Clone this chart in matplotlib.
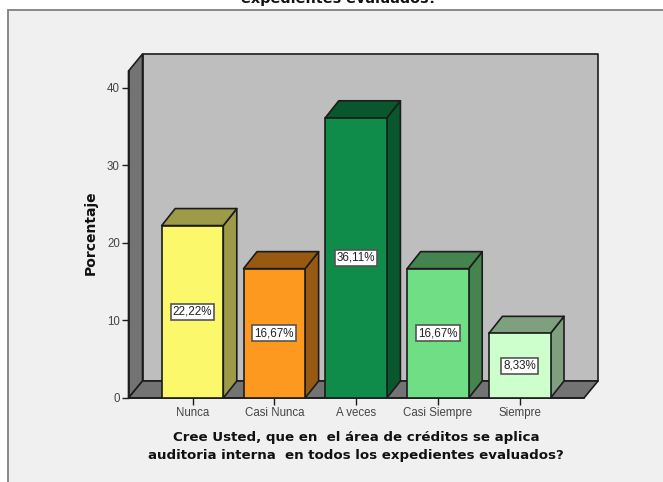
import matplotlib

matplotlib.use("Agg")
import matplotlib.pyplot as plt
from matplotlib.patches import Polygon, Rectangle

CATEGORIES = ["Nunca", "Casi Nunca", "A veces", "Casi Siempre", "Siempre"]
VALUES = [22.22, 16.67, 36.11, 16.67, 8.33]
LABELS = ["22,22%", "16,67%", "36,11%", "16,67%", "8,33%"]
FRONT = ["#FCF86C", "#FD991F", "#0F8C4A", "#70DE85", "#CCFFCC"]
DARK = ["#9E9B48", "#985A12", "#09582D", "#45834F", "#7EA07E"]
YTICKS = [0, 10, 20, 30, 40]

W, H = 663, 482
EDGE = "#1c1c1c"

# front plane of the 3d box, in pixels from the top left
LEFT, RIGHT, TOP, BOTTOM = 128.5, 584.0, 71.0, 398.0
STEP = 81.8
FIRST = 192.5
PX_PER_UNIT = 7.76

fig = plt.figure(figsize=(W / 100, H / 100), dpi=100, facecolor="white")
fig.add_artist(Rectangle((7.5 / W, -0.02), 0.99, 1 - 10 / H + 0.02, transform=fig.transFigure,
                         facecolor="#F0F0F0", edgecolor="#808080", linewidth=1.3, zorder=-1))

ax = fig.add_axes([LEFT / W, 1 - BOTTOM / H, (RIGHT - LEFT) / W, (BOTTOM - TOP) / H])
ax.set_xlim((LEFT - FIRST) / STEP, (RIGHT - FIRST) / STEP)
ax.set_ylim(0, (BOTTOM - TOP) / PX_PER_UNIT)
ax.patch.set_visible(False)

x0, x1 = ax.get_xlim()
y0, y1 = ax.get_ylim()
dx = 14 / STEP
dy = 17 / PX_PER_UNIT


def face(points, color, zorder):
    ax.add_patch(Polygon(points, closed=True, facecolor=color, edgecolor=EDGE,
                         linewidth=1.2, joinstyle="round", clip_on=False, zorder=zorder))


# box walls
face([(x0 + dx, y0 + dy), (x1 + dx, y0 + dy), (x1 + dx, y1 + dy), (x0 + dx, y1 + dy)], "#BEBEBE", 1)
face([(x0, y0), (x0 + dx, y0 + dy), (x0 + dx, y1 + dy), (x0, y1)], "#737373", 1.1)
face([(x0, y0), (x1, y0), (x1 + dx, y0 + dy), (x0 + dx, y0 + dy)], "#737373", 1.1)

half = 30.8 / STEP
bar_dx = 13.5 / STEP
for i, value in enumerate(VALUES):
    l, r = i - half, i + half
    face([(r, 0), (r + bar_dx, dy), (r + bar_dx, value + dy), (r, value)], DARK[i], 2)
    face([(l, value), (r, value), (r + bar_dx, value + dy), (l + bar_dx, value + dy)], DARK[i], 2)
    ax.bar(i, value, width=2 * half, color=FRONT[i], edgecolor=EDGE, linewidth=1.2, zorder=3)
    ax.text(i, value / 2, LABELS[i], ha="center", va="center", fontsize=8.4,
            family="Liberation Sans", color="#222222", zorder=4,
            bbox=dict(boxstyle="square,pad=0.18", facecolor="white", edgecolor="#555555", linewidth=1.2))

for side in ["top", "right"]:
    ax.spines[side].set_visible(False)
for side in ["left", "bottom"]:
    ax.spines[side].set_linewidth(1.2)
    ax.spines[side].set_color(EDGE)
    ax.spines[side].set_zorder(2.5)

ax.set_yticks(YTICKS)
ax.set_xticks(range(len(CATEGORIES)))
ax.set_xticklabels(CATEGORIES)
ax.tick_params(axis="both", length=5.2, width=1.0, color=EDGE, labelsize=8.3, labelcolor="#444444", pad=1)
for label in ax.get_xticklabels() + ax.get_yticklabels():
    label.set_family("Liberation Sans")

fig.text(91 / W, 1 - 233 / H, "Porcentaje", rotation=90, ha="center", va="center",
         fontsize=10, fontweight="bold", family="DejaVu Sans", color="#111111")
fig.text(356 / W, 1 - 446.5 / H,
         "Cree Usted, que en  el área de créditos se aplica\nauditoria interna  en todos los expedientes evaluados?",
         ha="center", va="center", fontsize=9.65, fontweight="bold", family="DejaVu Sans",
         color="#111111", linespacing=1.4)
fig.text(339 / W, 1 - 3 / H, "expedientes evaluados?", ha="center", va="baseline",
         fontsize=10.4, fontweight="bold", family="DejaVu Sans", color="#111111")

fig.savefig("out.png", dpi=100, facecolor="white")
plt.close(fig)
